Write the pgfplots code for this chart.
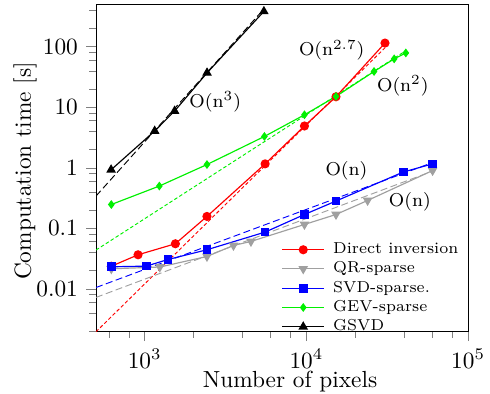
\documentclass[border=0pt]{standalone}
\usepackage{pgfplots}
\pgfplotsset{compat=1.18}

\definecolor{dinv}{RGB}{255,0,0}
\definecolor{qrs}{RGB}{160,160,160}
\definecolor{svds}{RGB}{0,0,255}
\definecolor{gevs}{RGB}{0,240,0}

% measured timings: number of pixels vs. seconds
\pgfplotstableread{
n      t
622    0.0236
910    0.0365
1548   0.0555
2427   0.157
5557   1.16
9727   4.9
15240  14.9
30620  115
}\directinv
\pgfplotstableread{
n      t
622    0.0214
1240   0.0229
2427   0.0342
3540   0.052
4540   0.0606
9727   0.1156
15240  0.169
23900  0.288
60300  0.90
}\qrsparse
\pgfplotstableread{
n      t
622    0.0231
1024   0.0237
1394   0.0305
2427   0.0442
5557   0.0865
9727   0.169
15240  0.282
39700  0.85
60300  1.16
}\svdsparse
\pgfplotstableread{
n      t
622    0.247
1232   0.499
2427   1.13
5500   3.29
9727   7.5
15240  15.1
26200  39
34900  63
41200  79
}\gevsparse
\pgfplotstableread{
n      t
620    0.927
1153   4.05
1531   8.65
2430   37
5460   383
}\gsvd

\begin{document}
\begin{tikzpicture}
\path[use as bounding box] (-41.2pt,-26.6pt) rectangle (169.1pt,142.1pt);
\begin{axis}[
  scale only axis, width=159.7pt, height=140.2pt,
  xmode=log, ymode=log,
  xmin=500, xmax=1e5, ymin=0.002, ymax=500,
  xtick={1e3,1e4,1e5},
  minor xtick={600,800,2000,4000,6000,8000,20000,40000,60000,80000},
  ytick={0.01,0.1,1,10,100},
  yticklabels={0.01,0.1,1,10,100},
  minor ytick={0.002,0.004,0.006,0.008,0.02,0.04,0.06,0.08,0.2,0.4,0.6,0.8,2,4,6,8,20,40,60,80,200,400},
  tick align=outside, tick pos=left,
  xlabel={Number of pixels}, ylabel={Computation time [s]},
  xlabel style={at={(axis description cs:0.5215,-0.174)}, anchor=base},
  ylabel style={at={(axis description cs:-0.191,0.49)}, anchor=center},
  legend style={at={(1.0,-0.032)}, anchor=south east, draw=none, fill=none,
    font=\fontsize{6.8}{8}\selectfont,
    nodes={inner sep=1pt}, row sep=0pt, column sep=2.5pt},
  legend cell align=left,
  legend image code/.code={%
    \draw[mark repeat=2,mark phase=2] plot coordinates {(0cm,0cm) (0.32cm,0cm) (0.64cm,0cm)};},
  every axis plot/.append style={line width=0.5pt},
]
% power-law reference lines
\addplot[dinv, dash pattern=on 1.5pt off 1pt, line width=0.4pt, forget plot] coordinates {(500,0.00195) (30620,96)};
\addplot[qrs, dash pattern=on 3pt off 1.5pt, line width=0.4pt, forget plot] coordinates {(500,0.0072) (60300,0.88)};
\addplot[svds, dash pattern=on 3pt off 1.5pt, line width=0.4pt, forget plot] coordinates {(500,0.0105) (60300,1.22)};
\addplot[gevs, dash pattern=on 1.5pt off 1pt, line width=0.4pt, forget plot] coordinates {(500,0.0437) (41200,86)};
\addplot[black, dash pattern=on 3pt off 1.5pt, line width=0.4pt, forget plot] coordinates {(500,0.341) (5460,420)};

\addplot[dinv, mark=*, mark size=1.7pt] table[x=n,y=t] {\directinv};
\addlegendentry{Direct inversion}
\addplot[qrs, mark=triangle*, mark size=1.9pt, mark options={rotate=180}] table[x=n,y=t] {\qrsparse};
\addlegendentry{QR-sparse}
\addplot[svds, mark=square*, mark size=1.6pt] table[x=n,y=t] {\svdsparse};
\addlegendentry{SVD-sparse.}
\addplot[gevs, mark=diamond*, mark size=1.5pt] table[x=n,y=t] {\gevsparse};
\addlegendentry{GEV-sparse}
\addplot[black, mark=triangle*, mark size=1.9pt] table[x=n,y=t] {\gsvd};
\addlegendentry{GSVD}

\begin{scope}[font=\fontsize{8.5}{10}\selectfont]
\node at (axis cs:2730,12.3) {$\mathrm{O(n^{3})}$};
\node at (axis cs:14350,87) {$\mathrm{O(n^{2.7})}$};
\node at (axis cs:39500,22.7) {$\mathrm{O(n^{2})}$};
\node at (axis cs:17700,0.90) {$\mathrm{O(n)}$};
\node at (axis cs:43600,0.274) {$\mathrm{O(n)}$};
\end{scope}
\end{axis}
\end{tikzpicture}
\end{document}
